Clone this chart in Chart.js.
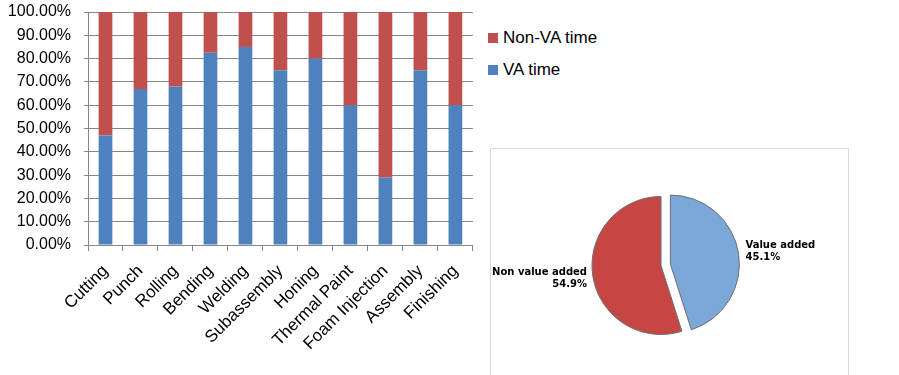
<!DOCTYPE html>
<html>
<head>
<meta charset="utf-8">
<script src="https://cdn.jsdelivr.net/npm/chart.js@4.4.1/dist/chart.umd.min.js"></script>
<style>
  body { margin: 0; background: #fff; width: 899px; height: 375px; position: relative; overflow: hidden; font-family: "Liberation Sans", Arial, sans-serif; }
  #barChart { position: absolute; left: 0; top: 0; }
  #pieBox { position: absolute; left: 490px; top: 148px; width: 359px; height: 240px; border: 1px solid #d9d9d9; box-sizing: border-box; }
  #pieChart { position: absolute; left: 490px; top: 148px; }
  #legend { position: absolute; left: 488px; top: 22px; font-size: 17px; color: #000; }
  #legend div { height: 32px; display: flex; align-items: center; }
  #legend span.box { width: 10px; height: 10px; margin-right: 5px; display: inline-block; }
</style>
</head>
<body>
<canvas id="barChart" width="480" height="375"></canvas>
<div id="legend"></div>
<div id="pieBox"></div>
<canvas id="pieChart" width="359" height="227"></canvas>
<script>
// bar chart data
const categories = ['Cutting', 'Punch', 'Rolling', 'Bending', 'Welding', 'Subassembly',
  'Honing', 'Thermal Paint', 'Foam Injection', 'Assembly', 'Finishing'];
const vaTime = [47, 67, 68, 82.5, 85, 75, 80, 60, 29, 75, 60];
const nonVaTime = [53, 33, 32, 17.5, 15, 25, 20, 40, 71, 25, 40];
const yTickStep = 10;
const yMax = 100;

// pie chart data
const pieLabels = ['Value added', 'Non value added'];
const pieValues = [45.1, 54.9];
const pieExplode = [9.5, 0];

const blue = '#4F81BD';
const red = '#C0504D';

// legend (Non-VA listed first, like the original)
const legendItems = [['Non-VA time', red], ['VA time', blue]];
document.getElementById('legend').innerHTML = legendItems
  .map(([t, c]) => `<div><span class="box" style="background:${c}"></span>${t}</div>`)
  .join('');

const barCtx = document.getElementById('barChart').getContext('2d');
new Chart(barCtx, {
  type: 'bar',
  data: {
    labels: categories,
    datasets: [
      { label: 'VA time', data: vaTime, backgroundColor: blue },
      { label: 'Non-VA time', data: nonVaTime, backgroundColor: red }
    ]
  },
  options: {
    responsive: false,
    animation: false,
    layout: { padding: { top: 12, right: 4, left: 0, bottom: 0 } },
    datasets: { bar: { categoryPercentage: 0.8, barPercentage: 0.49 } },
    scales: {
      x: {
        stacked: true,
        afterFit: s => { s.height = 130; },
        grid: { drawOnChartArea: false, drawTicks: true, tickLength: 6, color: '#868686', offset: true },
        border: { color: '#868686', width: 1 },
        ticks: {
          minRotation: 45, maxRotation: 45, autoSkip: false, padding: 10,
          color: '#000', font: { family: 'Liberation Sans', size: 17 }
        }
      },
      y: {
        stacked: true,
        min: 0, max: yMax,
        // fixed width; drop the extra top/bottom padding that ticks.padding adds
        afterFit: s => { s.width = 88; s.paddingTop = 0; s.paddingBottom = 0; },
        grid: { color: '#868686', lineWidth: 1, tickLength: 4 },
        border: { color: '#868686', width: 1 },
        ticks: {
          stepSize: yTickStep, padding: 13, color: '#000', autoSkip: false,
          font: { family: 'Liberation Sans', size: 16 },
          callback: v => v.toFixed(2) + '%'
        }
      }
    },
    plugins: { legend: { display: false }, tooltip: { enabled: false } }
  }
});

// pull the exploded slice out without enlarging it
const explodePlugin = {
  id: 'explode',
  afterUpdate(chart) {
    chart.getDatasetMeta(0).data.forEach((arc, i) => {
      if (arc._exploded) return;
      const orig = arc.draw.bind(arc);
      arc.draw = function (ctx) {
        const mid = (this.startAngle + this.endAngle) / 2;
        ctx.save();
        ctx.translate(Math.cos(mid) * pieExplode[i], Math.sin(mid) * pieExplode[i]);
        orig(ctx);
        ctx.restore();
      };
      arc._exploded = true;
    });
  }
};

// labels beside the pie, placed from the arc geometry
const pieLabelPlugin = {
  id: 'pieLabels',
  afterDatasetsDraw(chart) {
    const ctx = chart.ctx;
    const arcs = chart.getDatasetMeta(0).data;
    const total = pieValues.reduce((a, b) => a + b, 0);
    ctx.save();
    ctx.font = 'bold 10px "DejaVu Sans", Verdana, sans-serif';
    ctx.fillStyle = '#000';
    arcs.forEach((arc, i) => {
      const { x, y, outerRadius } = arc.getProps(['x', 'y', 'outerRadius'], true);
      const pct = (pieValues[i] / total * 100).toFixed(1) + '%';
      if (i === 0) {
        ctx.textAlign = 'left';
        const lx = x + outerRadius + pieExplode[i] + 6;
        ctx.fillText(pieLabels[i], lx, y - 18);
        ctx.fillText(pct, lx, y - 6);
      } else {
        ctx.textAlign = 'right';
        const lx = x - outerRadius - 5;
        ctx.fillText(pieLabels[i], lx, y + 9);
        ctx.fillText(pct, lx, y + 21);
      }
    });
    ctx.restore();
  }
};

const pieCtx = document.getElementById('pieChart').getContext('2d');
new Chart(pieCtx, {
  type: 'pie',
  data: {
    labels: pieLabels,
    datasets: [{
      data: pieValues,
      backgroundColor: ['#7BA7D9', '#C64644'],
      borderColor: '#6f6f6f',
      borderWidth: 1,
      radius: 69
    }]
  },
  options: {
    responsive: false,
    animation: false,
    layout: { padding: { left: 0, right: 17, top: 8, bottom: 0 } },
    plugins: { legend: { display: false }, tooltip: { enabled: false } }
  },
  plugins: [explodePlugin, pieLabelPlugin]
});
</script>
</body>
</html>
